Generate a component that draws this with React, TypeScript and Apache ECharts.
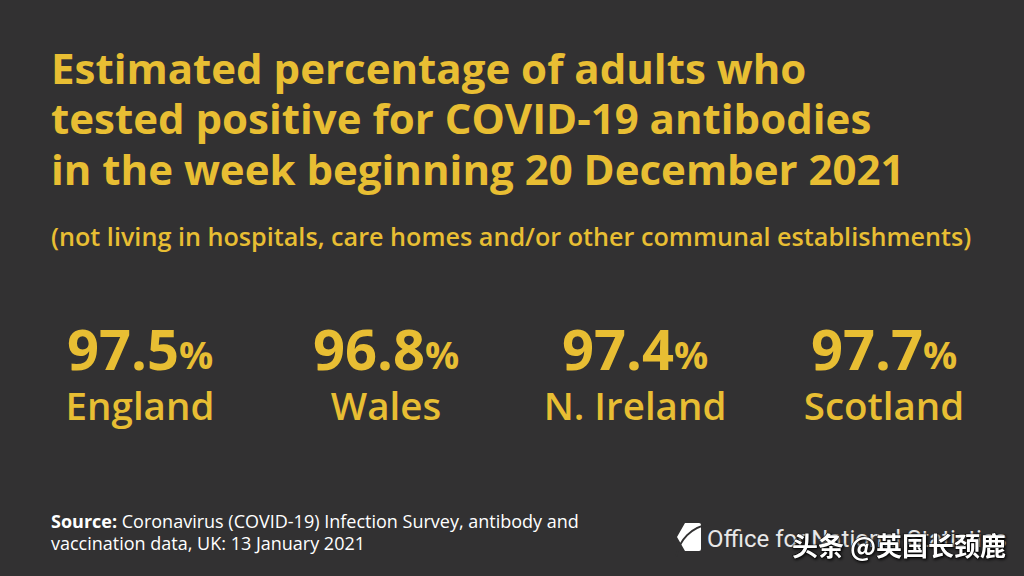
import React, { useEffect, useRef } from "react";
import * as echarts from "echarts";

const titleLines = [
  "Estimated percentage of adults who",
  "tested positive for COVID-19 antibodies",
  "in the week beginning 20 December 2021",
];
const subtitle = "(not living in hospitals, care homes and/or other communal establishments)";
const nations = ["England", "Wales", "N. Ireland", "Scotland"];
const values = [97.5, 96.8, 97.4, 97.7];
const sourceLabel = "Source:";
const sourceLines = [
  " Coronavirus (COVID-19) Infection Survey, antibody and",
  "vaccination data, UK: 13 January 2021",
];
const orgName = "Office for National Statistics";
const watermark = "头条 @英国长颈鹿";

const BG = "#323132";
const YEL = "#E8BE33";
const FONT = "'Open Sans', 'Noto Sans', sans-serif";

export default function App() {
  const ref = useRef<HTMLDivElement>(null);
  useEffect(() => {
    const chart = echarts.init(ref.current!, null, { renderer: "svg" });
    const colX = [140, 386, 635, 884];
    const graphic: any[] = [];
    titleLines.forEach((t, i) => {
      graphic.push({
        type: "text",
        x: 51,
        y: 67 + i * 50.5,
        style: { text: t, fill: YEL, font: `bold 42px ${FONT}`, textVerticalAlign: "middle" },
      });
    });
    graphic.push({
      type: "text",
      x: 51,
      y: 236,
      style: { text: subtitle, fill: YEL, font: `600 25.2px ${FONT}`, textVerticalAlign: "middle" },
    });
    nations.forEach((n, i) => {
      graphic.push({
        type: "text",
        x: colX[i],
        y: 348,
        style: {
          text: `{v|${values[i].toFixed(1)}}{p|%}`,
          textAlign: "center",
          textVerticalAlign: "middle",
          rich: {
            v: { fontSize: 56, fontWeight: "bold", fontFamily: FONT, fill: YEL, color: YEL },
            p: { fontSize: 38, fontWeight: "bold", fontFamily: FONT, fill: YEL, color: YEL, padding: [11, 0, 0, 0] },
          },
        },
      });
      graphic.push({
        type: "text",
        x: colX[i],
        y: 405,
        style: {
          text: n,
          fill: YEL,
          font: `600 38.5px ${FONT}`,
          textAlign: "center",
          textVerticalAlign: "middle",
        },
      });
    });
    graphic.push({
      type: "text",
      x: 51,
      y: 521,
      style: {
        text: `{b|${sourceLabel}}{n|${sourceLines[0]}}`,
        textVerticalAlign: "middle",
        rich: {
          b: { fontSize: 18, fontWeight: "bold", fontFamily: FONT, fill: "#ffffff", color: "#ffffff" },
          n: { fontSize: 18, fontFamily: FONT, fill: "#ffffff", color: "#ffffff" },
        },
      },
    });
    graphic.push({
      type: "text",
      x: 51,
      y: 543,
      style: { text: sourceLines[1], fill: "#ffffff", font: `18px ${FONT}`, textVerticalAlign: "middle" },
    });
    // ONS logo
    graphic.push({ type: "rect", shape: { x: 675, y: 523, width: 26, height: 28, r: 2 }, style: { fill: "#ffffff" } });
    graphic.push({ type: "arc", shape: { cx: 714, cy: 562, r: 38, startAngle: Math.PI * 1.05, endAngle: Math.PI * 1.45 }, style: { stroke: BG, lineWidth: 2, fill: "none" } });
    graphic.push({ type: "polygon", shape: { points: [[675, 523], [685, 523], [677, 537], [685, 551], [675, 551]] }, style: { fill: BG } });
    graphic.push({
      type: "text",
      x: 707,
      y: 539,
      style: { text: orgName, fill: "#e8e8e8", font: `24px 'Roboto', sans-serif`, textVerticalAlign: "middle" },
    });
    graphic.push({
      type: "text",
      x: 792,
      y: 544,
      style: {
        text: watermark,
        fill: "#ffffff",
        font: `bold 26px 'Noto Sans CJK SC', sans-serif`,
        textVerticalAlign: "middle",
        textShadowColor: "rgba(0,0,0,0.9)",
        textShadowBlur: 3,
        textShadowOffsetX: 1,
        textShadowOffsetY: 1,
        stroke: "#000000",
        lineWidth: 1,
      },
    });
    chart.setOption({
      animation: false,
      backgroundColor: BG,
      graphic,
    });
    return () => chart.dispose();
  }, []);
  return (
    <div
      ref={ref}
      style={{ position: "absolute", left: 0, top: 0, width: 1024, height: 576 }}
    />
  );
}
